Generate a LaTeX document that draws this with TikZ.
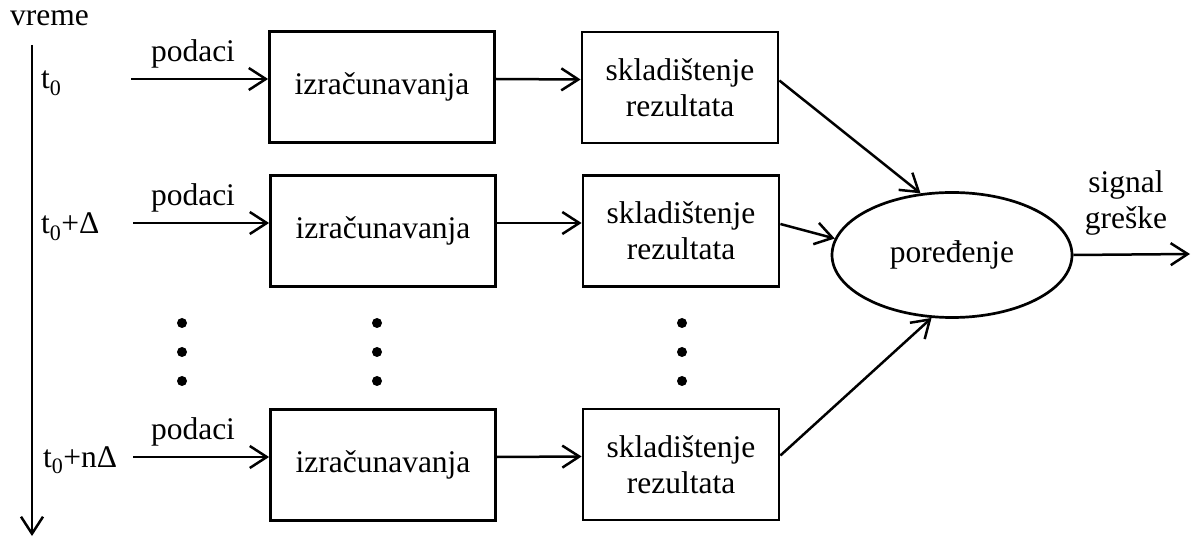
\documentclass[tikz,border=0pt]{standalone}
\usepackage{fontspec}
\setmainfont{Liberation Serif}
\usetikzlibrary{arrows.meta,shapes.geometric}
\begin{document}
\begin{tikzpicture}[x=1pt,y=-1pt,
  every node/.style={font=\fontsize{31.5}{36}\selectfont,inner sep=0pt},
  arr/.style={line width=2.5pt,-{Straight Barb[length=17pt,width=22pt,line width=2.5pt]}},
  calcbox/.style={draw,line width=2.8pt,minimum width=225pt,minimum height=111pt},
  storebox/.style={draw,line width=2.8pt,minimum width=196pt,minimum height=111pt,align=center},
  cmpshape/.style={draw,ellipse,line width=2.7pt,minimum width=240pt,minimum height=125pt},
  vdot/.style={fill,circle,minimum size=10pt}]
\useasboundingbox (0,0) rectangle (1192,537);

% time axis
\coordinate (axtop) at (32,45);
\coordinate (axbot) at (32,536);
\draw[arr] (axtop) -- (axbot);
\node[anchor=base west] (vreme) at (10,26) {vreme};

% processing rows
\node[calcbox] (c1) at (382,87) {izračunavanja};
\node[calcbox] (c2) at (383,231) {izračunavanja};
\node[calcbox] (c3) at (383,465) {izračunavanja};
\node[storebox] (s1) at (680,87.5) {skladištenje\\rezultata};
\node[storebox] (s2) at (681,231) {skladištenje\\rezultata};
\node[storebox] (s3) at (681,464.5) {skladištenje\\rezultata};

\coordinate (in1) at (131,79);
\coordinate (in2) at (133,223);
\coordinate (in3) at (133,457);

\node[anchor=base west] (t1) at (41,89) {t\textsubscript{0}};
\node[anchor=base west] (t2) at (41,234) {t\textsubscript{0}+Δ};
\node[anchor=base west] (t3) at (43,467) {t\textsubscript{0}+nΔ};

\node[anchor=base] (p1) at (193,62) {podaci};
\node[anchor=base] (p2) at (193,206) {podaci};
\node[anchor=base] (p3) at (193,439) {podaci};

\draw[arr] (in1) -- ([yshift=8pt]c1.west);
\draw[arr] (in2) -- ([yshift=8pt]c2.west);
\draw[arr] (in3) -- ([yshift=8pt]c3.west);
\draw[arr] ([yshift=8pt]c1.east) -- ([yshift=8pt]s1.west);
\draw[arr] ([yshift=8pt]c2.east) -- ([yshift=8pt]s2.west);
\draw[arr] ([yshift=8pt]c3.east) -- ([yshift=8pt]s3.west);

% omitted rows
\foreach \x/\n in {182/a,377/b,682/c}{
  \node[vdot] (d\n1) at (\x,323) {};
  \node[vdot] (d\n2) at (\x,352) {};
  \node[vdot] (d\n3) at (\x,381) {};
}

% comparison
\node[cmpshape] (cmp) at (952,255) {poređenje};
\draw[arr] ([yshift=7pt]s1.east) -- (cmp.117);
\draw[arr] ([yshift=7pt]s2.east) -- (cmp.172);
\draw[arr] ([yshift=9pt]s3.east) -- (cmp.252);

\coordinate (out) at (1190,254);
\draw[arr] (cmp.east) -- (out);
\node[align=center] (sig) at (1126,203) {signal\\greške};
\end{tikzpicture}
\end{document}
